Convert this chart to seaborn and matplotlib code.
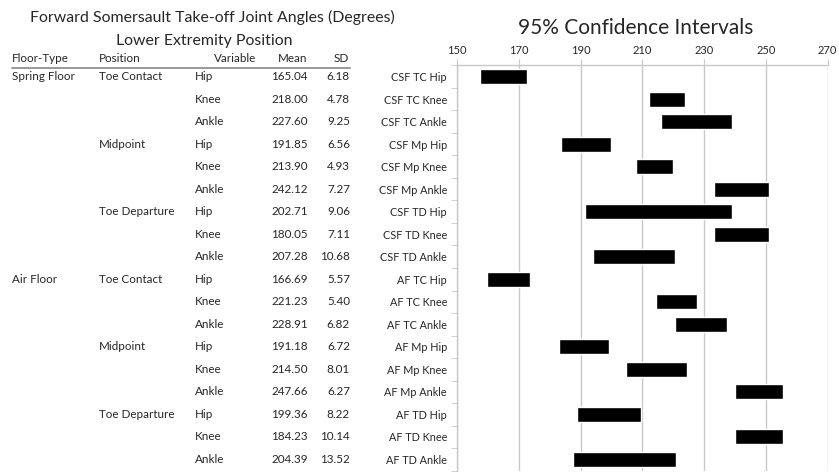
import numpy as np
import pandas as pd
import matplotlib
matplotlib.use("Agg")
import matplotlib.pyplot as plt
import seaborn as sns

# table values
floor_type = ["Spring Floor", "", "", "", "", "", "", "", "",
              "Air Floor", "", "", "", "", "", "", "", ""]
position = ["Toe Contact", "", "", "Midpoint", "", "", "Toe Departure", "", "",
            "Toe Contact", "", "", "Midpoint", "", "", "Toe Departure", "", ""]
variable = ["Hip", "Knee", "Ankle"] * 6
mean_vals = [165.04, 218.00, 227.60, 191.85, 213.90, 242.12, 202.71, 180.05, 207.28,
             166.69, 221.23, 228.91, 191.18, 214.50, 247.66, 199.36, 184.23, 204.39]
sd_vals = [6.18, 4.78, 9.25, 6.56, 4.93, 7.27, 9.06, 7.11, 10.68,
           5.57, 5.40, 6.82, 6.72, 8.01, 6.27, 8.22, 10.14, 13.52]

# confidence interval bars
ci_labels = ["CSF TC Hip", "CSF TC Knee", "CSF TC Ankle",
             "CSF Mp Hip", "CSF Mp Knee", "CSF Mp Ankle",
             "CSF TD Hip", "CSF TD Knee", "CSF TD Ankle",
             "AF TC Hip", "AF TC Knee", "AF TC Ankle",
             "AF Mp Hip", "AF Mp Knee", "AF Mp Ankle",
             "AF TD Hip", "AF TD Knee", "AF TD Ankle"]
ci_low = [157.4, 212.0, 216.0, 183.6, 207.8, 233.1, 191.5, 233.1, 193.9,
          159.7, 214.5, 220.4, 182.8, 204.7, 239.9, 188.9, 239.9, 187.6]
ci_high = [172.6, 223.8, 239.0, 199.8, 219.8, 251.0, 239.0, 251.0, 220.5,
           173.5, 227.7, 237.3, 199.3, 224.4, 255.4, 209.4, 255.4, 221.0]

sns.set_style("white")
plt.rcParams["font.family"] = ["Lato", "DejaVu Sans"]
txt = "#262626"
grid_c = "#c8c8c8"

W, H = 839, 472
fig = plt.figure(figsize=(W / 100, H / 100), dpi=100)

# chart axes placed in pixel terms
x0, x1 = 457.3, 827.7
y_top, y_bot = 65.4, 470.6
ax = fig.add_axes([x0 / W, 1 - y_bot / H, (x1 - x0) / W, (y_bot - y_top) / H])

df = pd.DataFrame({"label": ci_labels, "low": ci_low, "high": ci_high})
df["span"] = df["high"] - df["low"]
sns.barplot(data=df, x="span", y="label", orient="y", color="black",
            width=0.66, left=df["low"].to_numpy(), saturation=1, ax=ax, zorder=3)

ax.set_xlim(150, 270)
ax.set_ylim(len(ci_labels) - 0.5, -0.5)
ax.set_xticks(np.arange(150, 271, 20))
ax.xaxis.tick_top()
ax.set_xlabel("")
ax.set_ylabel("")
ax.grid(axis="x", color=grid_c, linewidth=1, zorder=0)
ax.set_axisbelow(True)
for s in ["right", "bottom"]:
    ax.spines[s].set_visible(False)
for s in ["top", "left"]:
    ax.spines[s].set_color(grid_c)
    ax.spines[s].set_linewidth(1)
ax.tick_params(axis="x", top=True, length=4, color=grid_c, labelsize=8,
               labelcolor=txt, pad=3)
ax.tick_params(axis="y", which="major", left=False, labelsize=7.8, labelcolor=txt, pad=4)
ax.set_yticks(np.arange(-0.5, len(ci_labels), 1), minor=True)
ax.tick_params(axis="y", which="minor", left=True, length=4, color=grid_c)

fig.text(636 / W, 1 - 28 / H, "95% Confidence Intervals", ha="center", va="center",
         fontsize=15, color=txt)

# table on the left, same row positions as the chart
tx = fig.add_axes([0, 1 - y_bot / H, x0 / W, (y_bot - y_top) / H])
tx.set_xlim(0, x0)
tx.set_ylim(len(ci_labels) - 0.5, -0.5)
tx.axis("off")

row_px = (y_bot - y_top) / len(ci_labels)
def px_row(py):
    return (py - y_top) / row_px - 0.5

fs = 8.4
tx.text(212, px_row(17), "Forward Somersault Take-off Joint Angles (Degrees)",
        ha="center", va="center", fontsize=11.4, color=txt)
tx.text(204, px_row(41), "Lower Extremity Position", ha="center", va="center",
        fontsize=11.4, color=txt)
hy = px_row(59)
tx.text(12, hy, "Floor-Type", ha="left", va="center", fontsize=fs, color=txt)
tx.text(99, hy, "Position", ha="left", va="center", fontsize=fs, color=txt)
tx.text(256, hy, "Variable", ha="right", va="center", fontsize=fs, color=txt)
tx.text(307, hy, "Mean", ha="right", va="center", fontsize=fs, color=txt)
tx.text(349, hy, "SD", ha="right", va="center", fontsize=fs, color=txt)
tx.plot([12, 350], [px_row(68), px_row(68)], color="#999999", linewidth=1.4,
        clip_on=False)

for i in range(len(variable)):
    tx.text(12, i, floor_type[i], ha="left", va="center", fontsize=fs, color=txt)
    tx.text(99, i, position[i], ha="left", va="center", fontsize=fs, color=txt)
    tx.text(195, i, variable[i], ha="left", va="center", fontsize=fs, color=txt)
    tx.text(308, i, f"{mean_vals[i]:.2f}", ha="right", va="center", fontsize=fs, color=txt)
    tx.text(350, i, f"{sd_vals[i]:.2f}", ha="right", va="center", fontsize=fs, color=txt)

fig.savefig("out.png", dpi=100, facecolor="white")
